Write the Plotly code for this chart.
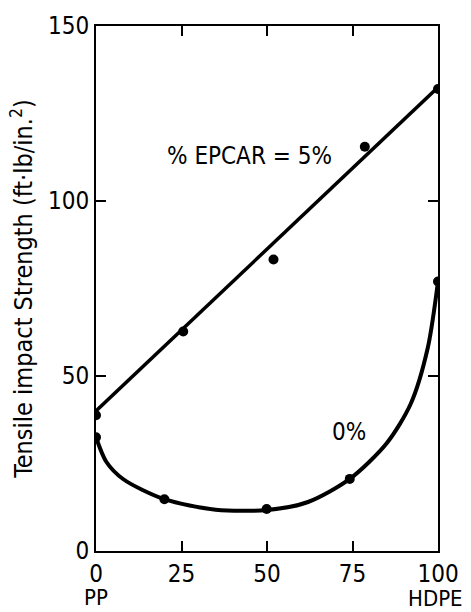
import plotly.graph_objects as go

# Measured data points
epcar5_x = [0, 25.5, 51.9, 78.6, 100]
epcar5_y = [38.8, 62.7, 83.3, 115.5, 132.0]
epcar5_fit_x = [0, 100]
epcar5_fit_y = [40.0, 132.5]

epcar0_x = [0, 20, 49.9, 74.2, 100]
epcar0_y = [32.5, 14.8, 12.0, 20.6, 77.0]
# Smooth hand-drawn curve
epcar0_curve_x = [0, 3, 8, 20, 35, 50, 62, 74.2, 85, 92, 97, 100]
epcar0_curve_y = [32.5, 25.5, 20.5, 14.8, 11.8, 11.7, 14.0, 20.6, 30.8, 42.0, 58.0, 77.0]

x_ticks = [0, 25, 50, 75, 100]
y_ticks = [0, 50, 100, 150]

FONT = "DejaVu Sans Condensed, Liberation Sans Narrow, DejaVu Sans, sans-serif"
FS = 24

fig = go.Figure()
fig.add_trace(go.Scatter(x=epcar5_fit_x, y=epcar5_fit_y, mode="lines",
                         line=dict(color="black", width=3.5), hoverinfo="skip"))
fig.add_trace(go.Scatter(x=epcar5_x, y=epcar5_y, mode="markers",
                         marker=dict(color="black", size=10)))
fig.add_trace(go.Scatter(x=epcar0_curve_x, y=epcar0_curve_y, mode="lines",
                         line=dict(color="black", width=4, shape="spline", smoothing=0.8),
                         hoverinfo="skip"))
fig.add_trace(go.Scatter(x=epcar0_x, y=epcar0_y, mode="markers",
                         marker=dict(color="black", size=10)))

fig.add_annotation(x=45, y=113, text="% EPCAR = 5%", showarrow=False,
                   font=dict(size=FS, color="black", family=FONT))
fig.add_annotation(x=73.9, y=34, text="0%", showarrow=False,
                   font=dict(size=FS, color="black", family=FONT))
fig.add_annotation(x=0, y=0, yref="paper", text="PP", showarrow=False,
                   yanchor="middle", yshift=-46,
                   font=dict(size=22, color="black", family=FONT))
fig.add_annotation(x=100, y=0, yref="paper", text="HDPE", showarrow=False,
                   xanchor="right", xshift=27, yanchor="middle", yshift=-47,
                   font=dict(size=22, color="black", family=FONT))

axis_common = dict(showgrid=False, zeroline=False, showline=True, linecolor="black",
                   linewidth=2, mirror="ticks", ticks="inside", ticklen=10,
                   tickwidth=2, tickcolor="black",
                   tickfont=dict(size=FS, color="black", family=FONT))

fig.update_xaxes(range=[0, 100], tickvals=x_ticks, ticktext=[str(v) for v in x_ticks],
                 **axis_common)
fig.update_yaxes(range=[0, 150], tickvals=y_ticks, ticktext=[str(v) for v in y_ticks],
                 title=dict(text="Tensile impact Strength (ft·lb/in.<sup>2</sup>)",
                            font=dict(size=25, color="black", family=FONT), standoff=8),
                 **axis_common)

fig.update_layout(width=471, height=612, showlegend=False,
                  margin=dict(l=96, r=31, t=25, b=61),
                  plot_bgcolor="white", paper_bgcolor="white")

fig.write_html("out.html", config={"displayModeBar": False},
               post_script="document.body.style.margin='0';")
